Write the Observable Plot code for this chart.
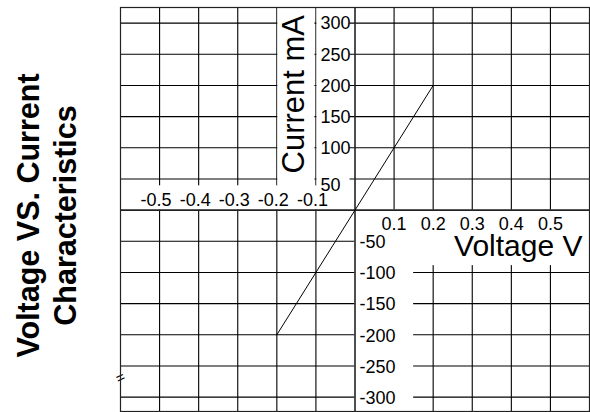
<!DOCTYPE html>
<html><head><meta charset="utf-8">
<script src="https://cdn.jsdelivr.net/npm/d3@7"></script>
<script src="https://cdn.jsdelivr.net/npm/@observablehq/plot@0.6"></script>
<style>body{margin:0;background:#fff;}</style>
</head><body><div id="chart"></div>
<script>
// Data
const voltage = [-0.2, 0.2];          // V
const current = [-200, 200];          // mA
const gridX = [-0.5, -0.4, -0.3, -0.2, -0.1, 0.1, 0.2, 0.3, 0.4, 0.5];
const gridY = [-300, -250, -200, -150, -100, -50, 50, 100, 150, 200, 250, 300];
const xTicksNeg = [-0.5, -0.4, -0.3, -0.2, -0.1];
const xTicksPos = [0.1, 0.2, 0.3, 0.4, 0.5];
const yTicksPos = [300, 250, 200, 150, 100];
const yTickLow = [50];
const yTicksNeg = [-50, -100, -150, -200, -250, -300];
const titleText = "Voltage VS. Current\nCharacteristics";
const xLabel = "Voltage V";
const yLabel = "Current mA";

const points = voltage.map((v, i) => ({v, c: current[i]}));
const lbl = d => String(d);
const font = "'Liberation Sans', Arial, Helvetica, sans-serif";

const chart = Plot.plot({
  width: 590, height: 412,
  marginLeft: 120, marginRight: 1, marginTop: 7, marginBottom: 1,
  style: {fontFamily: font, background: "white", color: "black"},
  x: {domain: [-0.6, 0.6], axis: null},
  y: {domain: [-323, 325], axis: null},
  marks: [
    Plot.ruleY(gridY, {stroke: "#000", strokeWidth: 1.1}),
    Plot.ruleX(gridX, {stroke: "#000", strokeWidth: 1.1}),
    // white label boxes
    Plot.rect([{x1: -0.2, x2: -0.1, y1: 39, y2: 325}], {x1: "x1", x2: "x2", y1: "y1", y2: "y2", fill: "white", insetLeft: 1, insetRight: 1}),
    Plot.rect([{x1: -0.1, x2: 0, y1: 39, y2: 325}], {x1: "x1", x2: "x2", y1: "y1", y2: "y2", fill: "white", insetLeft: 1, insetRight: 5}),
    Plot.rect([{x1: -0.6, x2: 0, y1: 0, y2: 39}], {x1: "x1", x2: "x2", y1: "y1", y2: "y2", fill: "white"}),
    Plot.rect([{x1: 0, x2: 0.6, y1: -89, y2: 0}], {x1: "x1", x2: "x2", y1: "y1", y2: "y2", fill: "white"}),
    Plot.rect([{x1: 0, x2: 0.15, y1: -323, y2: 0}], {x1: "x1", x2: "x2", y1: "y1", y2: "y2", fill: "white"}),
    // axes
    Plot.ruleX([0], {stroke: "#222", strokeWidth: 1.6}),
    Plot.ruleY([0], {stroke: "#222", strokeWidth: 1.6}),
    // data
    Plot.line(points, {x: "v", y: "c", stroke: "black", strokeWidth: 1}),
    // tick labels
    Plot.text(xTicksNeg, {x: d => d, y: () => 0, text: lbl, fontSize: 18, textAnchor: "middle", lineAnchor: "bottom", dx: -3.5, dy: -4.5, fill: "black"}),
    Plot.text(xTicksPos, {x: d => d, y: () => 0, text: lbl, fontSize: 18, textAnchor: "middle", lineAnchor: "bottom", dy: 19.4, fill: "black"}),
    Plot.text(yTicksPos, {x: () => -0.1, y: d => d, text: lbl, fontSize: 18, textAnchor: "start", lineAnchor: "middle", dx: 4.5, dy: 0.5, fill: "black"}),
    Plot.text(yTickLow, {x: () => -0.1, y: d => d, text: lbl, fontSize: 18, textAnchor: "start", lineAnchor: "middle", dx: 4.5, dy: 6.5, fill: "black"}),
    Plot.text(yTicksNeg, {x: () => 0, y: d => d, text: lbl, fontSize: 18, textAnchor: "start", lineAnchor: "middle", dx: 4.5, dy: 1, fill: "black"}),
    // axis titles
    Plot.text([yLabel], {x: () => -0.1, y: () => 50, text: d => d, rotate: -90, textAnchor: "start", lineAnchor: "bottom", fontSize: 31, dx: -12, dy: -5.5, fill: "black"}),
    Plot.text([xLabel], {x: () => 0.6, y: () => 0, text: d => d, textAnchor: "end", lineAnchor: "bottom", fontSize: 30, dx: -7, dy: 45.6, fill: "black"}),
    // chart title (rotated, left margin)
    Plot.text([titleText], {frameAnchor: "left", text: d => d, rotate: -90, textAnchor: "middle", lineAnchor: "middle", lineHeight: 1.2, fontSize: 30.5, fontWeight: "bold", dx: -75, dy: 6, fill: "black"}),
    // axis break mark
    Plot.text(["="], {x: () => -0.6, y: () => -269, text: d => d, rotate: -25, fontSize: 15, fill: "black"}),
    Plot.frame({stroke: "#222", strokeWidth: 1.2})
  ]
});
document.getElementById("chart").appendChild(chart);
</script>
</body></html>
